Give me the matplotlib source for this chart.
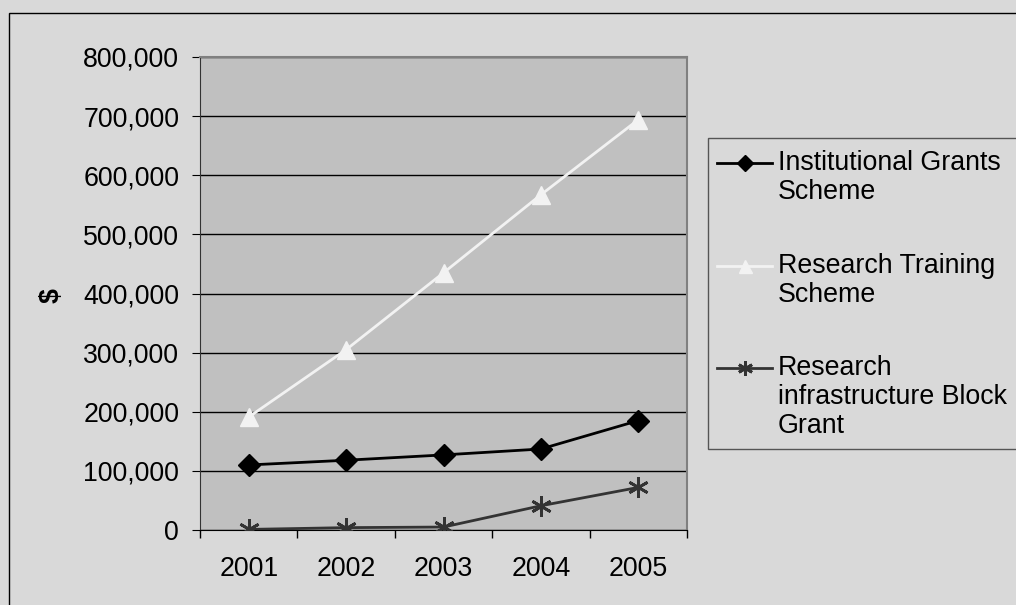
import matplotlib
matplotlib.use("Agg")
import matplotlib.pyplot as plt
from matplotlib.patches import Rectangle
from matplotlib.lines import Line2D
from matplotlib.ticker import FuncFormatter, FixedLocator, NullFormatter

plt.rcParams['font.family'] = ['Liberation Sans', 'DejaVu Sans']

years = ["2001", "2002", "2003", "2004", "2005"]
institutional = [110000, 118000, 127000, 137000, 185000]
training = [191000, 305000, 435000, 567000, 694000]
infrastructure = [1000, 4000, 5000, 41000, 72000]
series_labels = ["Institutional Grants\nScheme",
                 "Research Training\nScheme",
                 "Research\ninfrastructure Block\nGrant"]

W, H = 1016, 605
FS = 19.3

fig = plt.figure(figsize=(W / 100, H / 100), dpi=100)
fig.patch.set_facecolor("#d9d9d9")


def fx(px):
    return px / W


def fy(py):
    return (H - py) / H


# outer chart frame
fig.patches.append(Rectangle((fx(9), -0.01), 1.02, fy(13) + 0.01,
                             transform=fig.transFigure, fill=False,
                             edgecolor="black", linewidth=1.0))

ax = fig.add_axes([fx(200), fy(530), (687 - 200) / W, (530 - 57) / H])
ax.set_facecolor("#c0c0c0")

styles = [
    dict(color="black", lw=2, marker="D", ms=11),
    dict(color="#f2f2f2", lw=2, marker="^", ms=13),
    dict(color="#333333", lw=2, marker=(6, 2, 0), ms=15, mew=2),
]

x = list(range(len(years)))
for vals, st in zip([institutional, training, infrastructure], styles):
    ax.plot(x, vals, zorder=3, **st)

ax.set_xlim(-0.5, 4.5)
ax.set_ylim(0, 800000)
ax.set_yticks(range(0, 800001, 100000))
ax.yaxis.set_major_formatter(FuncFormatter(lambda v, p: f"{int(v):,}"))
ax.yaxis.grid(True, color="black", lw=1)
ax.set_axisbelow(True)

ax.xaxis.set_major_locator(FixedLocator([i - 0.5 for i in range(6)]))
ax.xaxis.set_major_formatter(NullFormatter())
ax.xaxis.set_minor_locator(FixedLocator(x))
ax.set_xticklabels(years, minor=True)
ax.tick_params(axis="x", which="minor", length=0, pad=19, labelsize=FS)
ax.tick_params(axis="x", which="major", length=6, direction="out", width=1)
ax.tick_params(axis="y", length=6, direction="out", labelsize=FS, pad=9)

for side in ("top", "right"):
    ax.spines[side].set_color("#808080")
    ax.spines[side].set_linewidth(1.5)
ax.spines["left"].set_color("#333333")
ax.spines["bottom"].set_color("black")

fig.text(fx(52), fy(296), "$", rotation=90, fontsize=FS, fontweight="bold",
         ha="center", va="center")

# legend box
fig.patches.append(Rectangle((fx(708), fy(449)), 1.0, fy(138) - fy(449),
                             transform=fig.transFigure, facecolor="#d9d9d9",
                             edgecolor="#555555", linewidth=1.0))
entry_y = [163, 266, 368]
line_gap = 29
for label, st, ey in zip(series_labels, styles, entry_y):
    fig.add_artist(Line2D([fx(717), fx(772)], [fy(ey), fy(ey)],
                          transform=fig.transFigure,
                          **{**st, "markevery": [], "lw": 2}))
    fig.add_artist(Line2D([fx(744.5)], [fy(ey)], transform=fig.transFigure,
                          color=st["color"], marker=st["marker"],
                          ms=st["ms"] * 0.72, mew=st.get("mew", 1), lw=0))
    for k, line in enumerate(label.split("\n")):
        fig.text(fx(778), fy(ey + k * line_gap), line, fontsize=FS,
                 ha="left", va="center")

fig.savefig("out.png", dpi=100, facecolor=fig.get_facecolor())
